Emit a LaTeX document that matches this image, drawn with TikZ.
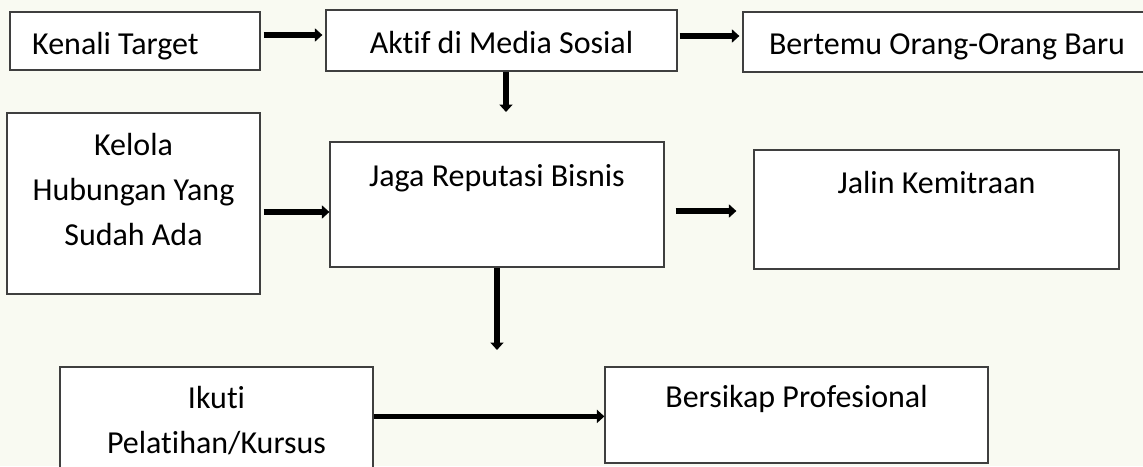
\documentclass[tikz,border=0pt]{standalone}
\usepackage{fontspec}
\setmainfont{Carlito}[RawFeature={-liga;-dlig;-clig}]
\usetikzlibrary{arrows.meta}
\definecolor{bgcol}{HTML}{F9FAF2}
\definecolor{boxline}{HTML}{3F3F3F}
\begin{document}
\begin{tikzpicture}[x=1pt,y=-1pt,
  box/.style={draw=boxline,line width=1.2pt,fill=white,inner sep=0pt,rectangle},
  txt/.style={anchor=base,inner sep=0pt,font=\fontsize{32}{45}\selectfont},
  arr/.style={line width=5.8pt,-{Triangle[length=7.5pt,width=13pt]}}]
\fill[bgcol] (0,0) rectangle (1143,466);
\useasboundingbox (0,0) rectangle (1143,466);
\clip (0,0) rectangle (1143,466);
% boxes
\node[box,minimum width=250pt,minimum height=58pt] (kenali) at (135,41) {};
\node[box,minimum width=351pt,minimum height=61pt] (aktif) at (501.5,40.5) {};
\node[box,minimum width=408pt,minimum height=60pt] (bertemu) at (947,42) {};
\node[box,minimum width=253pt,minimum height=181pt] (kelola) at (133.5,203.5) {};
\node[box,minimum width=334pt,minimum height=125pt] (jaga) at (497,204.5) {};
\node[box,minimum width=365pt,minimum height=119pt] (jalin) at (936.5,209.5) {};
\node[box,minimum width=313pt,minimum height=123pt] (ikuti) at (216.5,428.5) {};
\node[box,minimum width=383pt,minimum height=96pt] (bersikap) at (796.5,415) {};
% texts
\node[txt,anchor=base west] (t1) at (32,54) {Kenali Target};
\node[txt] (t2) at (501.5,53) {Aktif di Media Sosial};
\node[txt] (t3) at (947,54) {Bertemu Orang-Orang Baru};
\node[txt] (t4a) at (133.5,155) {Kelola};
\node[txt] (t4b) at (133.5,200) {Hubungan Yang};
\node[txt] (t4c) at (133.5,245) {Sudah Ada};
\node[txt] (t5) at (497,186) {Jaga Reputasi Bisnis};
\node[txt] (t6) at (936.5,193) {Jalin Kemitraan};
\node[txt] (t7a) at (216.5,408) {Ikuti};
\node[txt] (t7b) at (216.5,453) {Pelatihan/Kursus};
\node[txt] (t8) at (796.5,407) {Bersikap Profesional};
% connectors
\coordinate (d1) at (506,112);
\coordinate (d2) at (497,350);
\draw[arr] ([xshift=3pt,yshift=6pt]kenali.east) -- ([xshift=-3pt,yshift=6pt]kenali.east -| aktif.west);
\draw[arr] ([xshift=2pt,yshift=4.5pt]aktif.east) -- ([xshift=-3pt,yshift=4.5pt]aktif.east -| bertemu.west);
\draw[arr] (aktif.south -| d1) -- (d1);
\draw[arr] ([xshift=3pt,yshift=-8.5pt]kelola.east) -- ([yshift=-8.5pt]kelola.east -| jaga.west);
\draw[arr] ([xshift=11pt,yshift=-6.5pt]jaga.east) -- ([xshift=-17pt,yshift=-6.5pt]jaga.east -| jalin.west);
\draw[arr] (jaga.south) -- (d2);
\draw[arr] ([yshift=-50pt]ikuti.north -| ikuti.east) -- ([yshift=-50pt]ikuti.north -| bersikap.west);
\end{tikzpicture}
\end{document}
